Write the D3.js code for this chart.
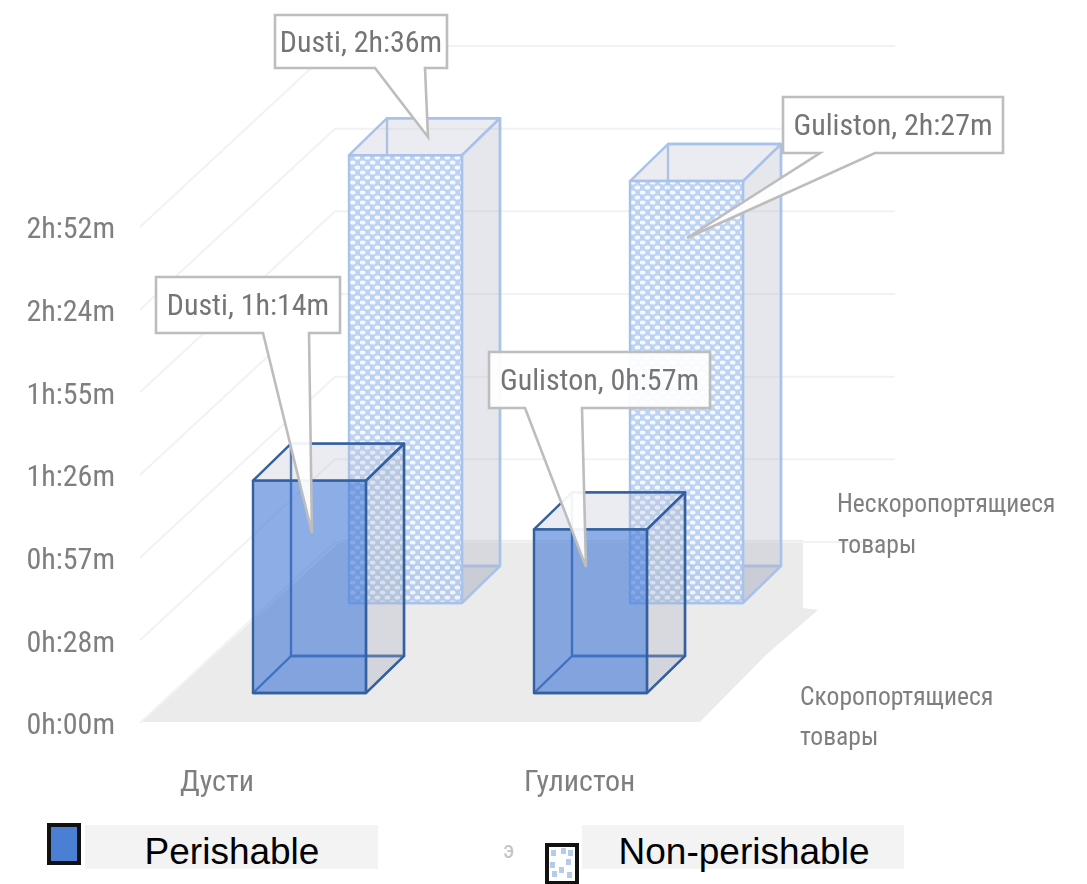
<!DOCTYPE html>
<html><head><meta charset="utf-8">
<script src="https://cdn.jsdelivr.net/npm/d3@7"></script>
<style>html,body{margin:0;padding:0;background:#fff;overflow:hidden}svg{display:block}</style>
</head><body><svg id="c" width="1087" height="884"></svg>
<script>
const categories = ["Дусти", "Гулистон"];
const calloutNames = ["Dusti", "Guliston"];
const perishable = [74, 57];
const nonPerishable = [156, 147];
const tickValues = [0, 28.8, 57.6, 86.4, 115.2, 144, 172.8];
const tickLabels = ["0h:00m", "0h:28m", "0h:57m", "1h:26m", "1h:55m", "2h:24m", "2h:52m"];
const legendLabels = ["Perishable", "Non-perishable"];

const W = 1087, H = 884;
const svg = d3.select("#c");
const defs = svg.append("defs");
const FONT = "'Liberation Sans Narrow','Roboto Condensed','Open Sans',sans-serif";

const soft = defs.append("filter").attr("id", "soft").attr("x", "-5%").attr("y", "-5%").attr("width", "110%").attr("height", "110%");
soft.append("feGaussianBlur").attr("stdDeviation", 0.7);

const pat = defs.append("pattern").attr("id", "dots").attr("patternUnits", "userSpaceOnUse").attr("width", 10).attr("height", 10);
pat.append("rect").attr("width", 10).attr("height", 10).attr("fill", "#b2cbf1");
[[2.5, 2.5], [7.5, 7.5]].forEach(p => pat.append("ellipse").attr("cx", p[0]).attr("cy", p[1]).attr("rx", 3.0).attr("ry", 2.1).attr("fill", "#f4f8fe"));

const chart = svg.append("g").attr("filter", "url(#soft)");

// scales
const y = d3.scaleLinear().domain([0, 172.8]).range([723, 227]);
const x = d3.scalePoint().domain(categories).range([253, 534]);
const barW = 113, depthX = 38, depthY = 37;
const line = d3.line();

// floor
chart.append("path").attr("fill", "#ebebeb").attr("d", line([[140, 722], [342, 540], [803, 540], [803, 608], [818, 610], [766, 655], [700, 722]]) + "Z");

// gridlines
const shiftX = 195, shiftY = 181;
chart.append("g").selectAll("path").data(tickValues).join("path")
  .attr("fill", "none").attr("stroke", "#f2f2f2").attr("stroke-width", 2)
  .attr("d", v => line([[140, y(v)], [140 + shiftX, y(v) - shiftY], [895, y(v) - shiftY]]));

// axis
const axis = d3.axisLeft(y).tickValues(tickValues).tickSize(0).tickPadding(0)
  .tickFormat((d, i) => tickLabels[i]);
const ag = chart.append("g").attr("transform", "translate(115,0)").call(axis);
ag.select(".domain").remove();
ag.selectAll("text").attr("font-family", FONT).attr("font-size", 30).attr("fill", "#7f7f7f").attr("dy", "0.36em");

// bars
function drawBars(values, s) {
  const g = chart.append("g");
  values.forEach((v, i) => {
    const x0 = x(categories[i]) + s.dx, x1 = x0 + barW;
    const b = y(0) - s.lift, t = b - (y(0) - y(v));
    const bx0 = x0 + depthX, bx1 = x1 + depthX, bb = b - depthY, bt = t - depthY;
    const poly = (pts, fill, op) => g.append("path").attr("d", line(pts) + "Z")
      .attr("fill", fill).attr("fill-opacity", op).attr("stroke", s.stroke).attr("stroke-width", 2.4).attr("stroke-linejoin", "round");
    poly([[bx0, bt], [bx1, bt], [bx1, bb], [bx0, bb]], "none", 1);
    poly([[x0, b], [x1, b], [bx1, bb], [bx0, bb]], "#a8b0c0", s.floorOp);
    poly([[x1, t], [bx1, bt], [bx1, bb], [x1, b]], "#a8b0c0", 0.3);
    poly([[x0, t], [x1, t], [bx1, bt], [bx0, bt]], "#b8c0d4", 0.3);
    poly([[x0, t], [x1, t], [x1, b], [x0, b]], s.fill, s.op);
  });
}
drawBars(nonPerishable, {dx: 96, lift: 120, fill: "url(#dots)", op: 0.85, floorOp: 0.28, stroke: "#a9c2ea"});
drawBars(perishable, {dx: 0, lift: 30, fill: "#457bd6", op: 0.62, floorOp: 0.1, stroke: "#35619f"});

// callouts
const fmt = m => `${Math.floor(m / 60)}h:${String(m % 60).padStart(2, "0")}m`;
const callouts = [
  {text: `${calloutNames[0]}, ${fmt(nonPerishable[0])}`, box: [275, 15, 447, 68], tail: [[375, 68], [425, 68], [428, 137]]},
  {text: `${calloutNames[1]}, ${fmt(nonPerishable[1])}`, box: [783, 97, 1003, 153], tail: [[820, 153], [875, 153], [687, 238]]},
  {text: `${calloutNames[0]}, ${fmt(perishable[0])}`, box: [156, 277, 340, 333], tail: [[263, 333], [309, 333], [312, 533]]},
  {text: `${calloutNames[1]}, ${fmt(perishable[1])}`, box: [489, 352, 710, 408], tail: [[525, 408], [582, 408], [586, 567]]}
];
const cg = chart.append("g").selectAll("g").data(callouts).join("g");
cg.append("path")
  .attr("d", d => {
    const [a, b, c, e] = d.box, [t0, t1, tip] = d.tail;
    return line([[a, b], [c, b], [c, e], t1, tip, t0, [a, e]]) + "Z";
  })
  .attr("fill", "#fff").attr("fill-opacity", 0.93).attr("stroke", "#bdbdbd").attr("stroke-width", 2.6).attr("stroke-linejoin", "miter");
cg.append("text").text(d => d.text)
  .attr("x", d => (d.box[0] + d.box[2]) / 2).attr("y", d => (d.box[1] + d.box[3]) / 2 + 10)
  .attr("text-anchor", "middle").attr("font-family", FONT).attr("font-size", 30).attr("fill", "#757575");

// category labels
const labelG = chart.append("g").attr("font-family", FONT).attr("font-size", 30).attr("fill", "#7f7f7f");
const catX = d3.scalePoint().domain(categories).range([180, 524]);
labelG.selectAll("text.cat").data(categories).join("text").attr("class", "cat")
  .text(d => d).attr("x", d => catX(d)).attr("y", 791);

// depth labels
const depthLabels = [
  {t: "Нескоропортящиеся", x: 837, y: 512}, {t: "товары", x: 838, y: 553},
  {t: "Скоропортящиеся", x: 800, y: 705}, {t: "товары", x: 800, y: 745}
];
labelG.selectAll("text.depth").data(depthLabels).join("text").attr("class", "depth")
  .text(d => d.t).attr("x", d => d.x).attr("y", d => d.y).attr("font-size", 25.6);

// legend
const legend = svg.append("g");
legend.append("text").text("э").attr("x", 503).attr("y", 858).attr("font-family", FONT).attr("font-size", 24).attr("fill", "#c4c4c4");
const legendItems = [
  {box: [85, 825, 293, 44], tx: 232, swatch: [49, 825, 30, 38], fill: "#4a7fd4"},
  {box: [582, 825, 322, 44], tx: 744, swatch: [547, 845, 30, 38], fill: "#fff"}
];
legendItems.forEach((d, i) => {
  legend.append("rect").attr("x", d.box[0]).attr("y", d.box[1]).attr("width", d.box[2]).attr("height", d.box[3]).attr("fill", "#f3f3f3");
  legend.append("text").text(legendLabels[i]).attr("x", d.tx).attr("y", 864).attr("text-anchor", "middle")
    .attr("font-family", "'Liberation Sans',Arial,sans-serif").attr("font-size", 37).attr("fill", "#000");
  legend.append("rect").attr("x", d.swatch[0]).attr("y", d.swatch[1]).attr("width", d.swatch[2]).attr("height", d.swatch[3])
    .attr("fill", d.fill).attr("stroke", "#111").attr("stroke-width", 4);
});
const sw = legendItems[1].swatch;
[[4, 5], [14, 3], [21, 5], [3, 17], [19, 14], [12, 22], [5, 26], [20, 27]].forEach(p =>
  legend.append("rect").attr("x", sw[0] + p[0]).attr("y", sw[1] + p[1]).attr("width", 5).attr("height", 6).attr("fill", "#b4cbea"));
</script></body></html>
